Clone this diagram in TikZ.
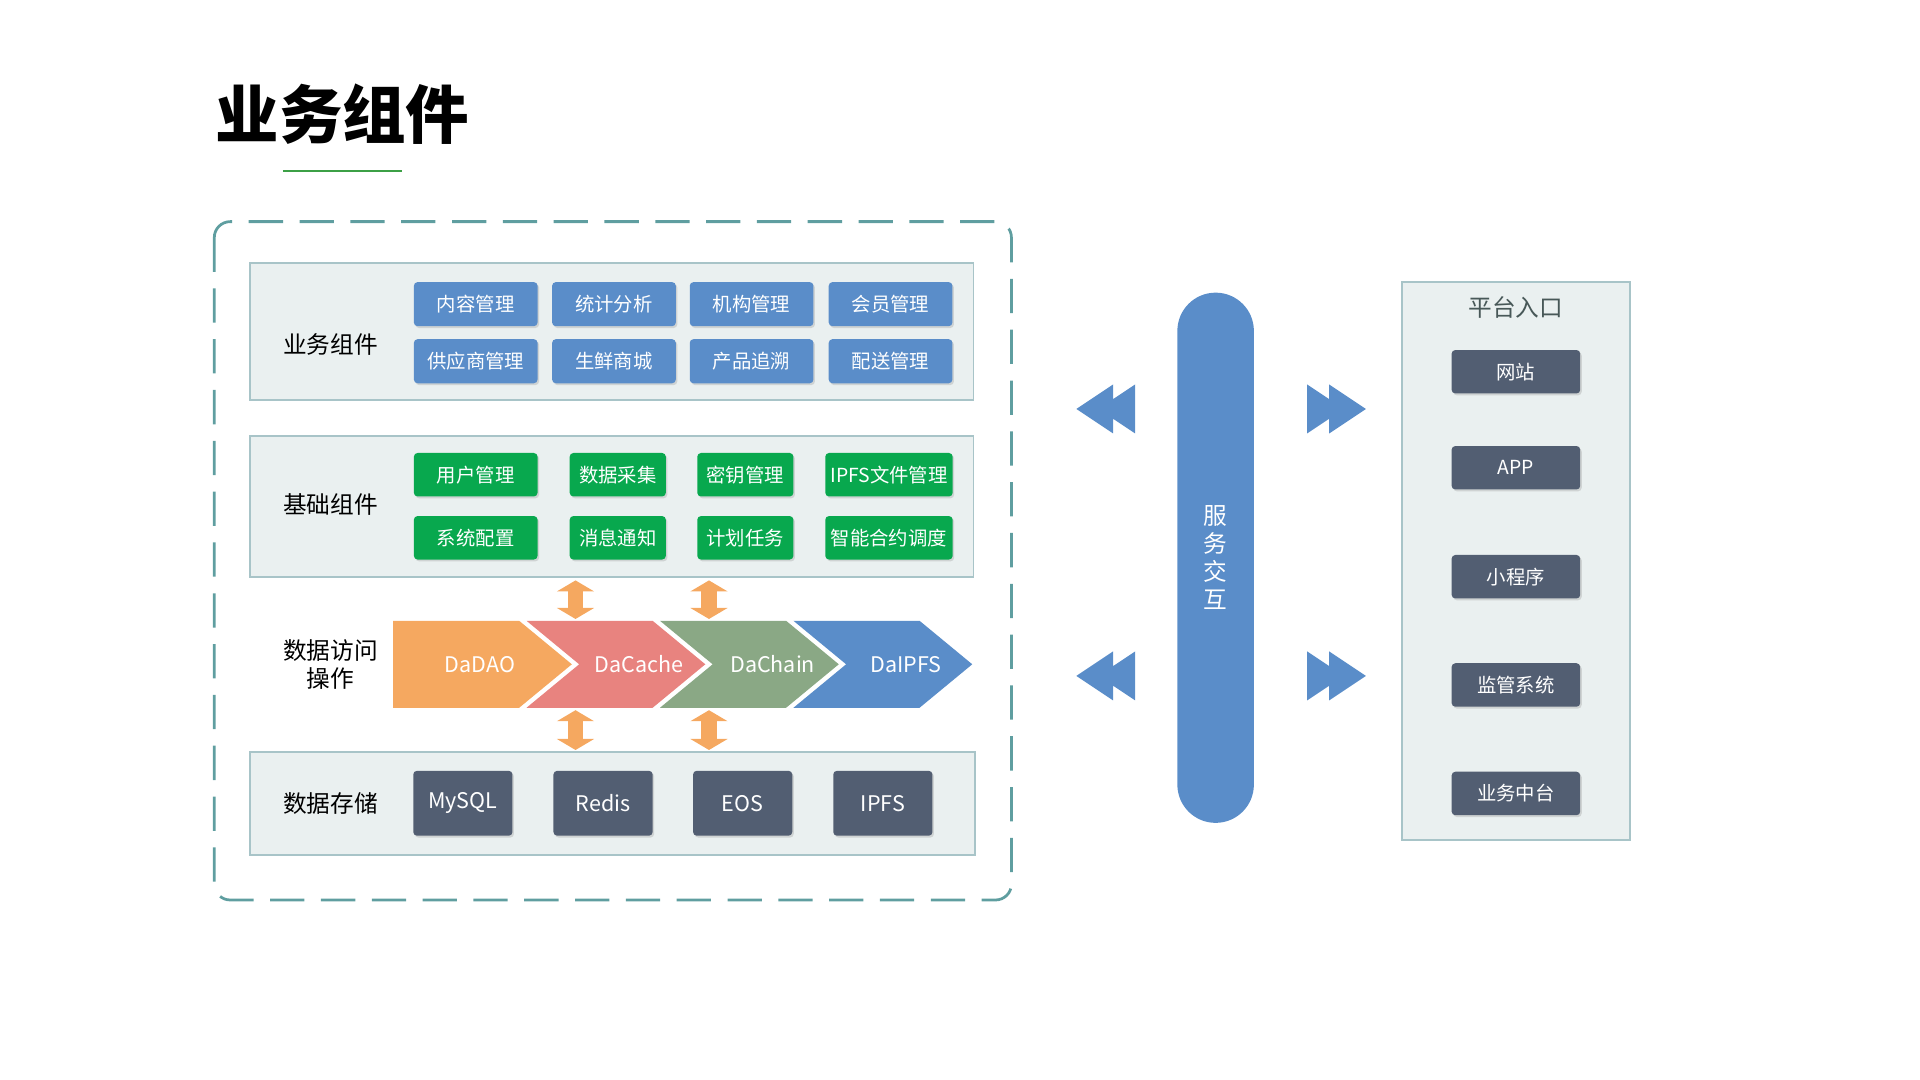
\documentclass[tikz,border=0pt]{standalone}
\usepackage{fontspec}
\setmainfont{Noto Sans CJK SC}
\usetikzlibrary{arrows.meta,shadows}
\definecolor{dashteal}{RGB}{95,158,160}
\definecolor{panelfill}{RGB}{234,240,240}
\definecolor{paneledge}{RGB}{168,196,200}
\definecolor{bizblue}{RGB}{90,141,201}
\definecolor{basegreen}{RGB}{8,168,78}
\definecolor{slate}{RGB}{82,94,114}
\definecolor{daorange}{RGB}{245,168,96}
\definecolor{dapink}{RGB}{232,131,127}
\definecolor{dasage}{RGB}{138,168,133}
\definecolor{linegreen}{RGB}{60,160,70}
\definecolor{portgray}{RGB}{72,88,88}

\begin{document}
\begin{tikzpicture}[x=0.2mm,y=-0.2mm]
\useasboundingbox (0,0) rectangle (1568,882);
\begin{scope}
\tikzstyle{every node}=[inner sep=0pt, font=\fontsize{9}{11}\selectfont];
\tikzstyle{panel}=[draw=paneledge, fill=panelfill, line width=0.3mm];
\tikzstyle{tile}=[rounded corners=0.6mm, text=white, drop shadow={shadow xshift=0.25mm, shadow yshift=-0.3mm, opacity=0.25}];
\tikzstyle{bizbox}=[tile, fill=bizblue, minimum width=20.2mm, minimum height=7.2mm];
\tikzstyle{basebox}=[tile, fill=basegreen, minimum height=7.1mm];
\tikzstyle{storebox}=[tile, fill=slate, minimum width=16.2mm, minimum height=10.6mm, font=\fontsize{10}{12}\selectfont];
\tikzstyle{portbox}=[tile, fill=slate, minimum width=21mm, minimum height=7.1mm];
\tikzstyle{sidelabel}=[font=\fontsize{11}{13}\selectfont, align=center];
\tikzstyle{dalabel}=[text=white, font=\fontsize{10}{12}\selectfont];
\tikzstyle{orangearr}=[draw=daorange, line width=2.6mm, {Triangle[width=6mm,length=1.8mm]}-{Triangle[width=6mm,length=1.8mm]}];
\tikzstyle{rewind}=[fill=bizblue];

\draw (279.7,93) node[font=\fontsize{29.5}{32}\selectfont\bfseries] (title) {业务组件};
\draw[linegreen, line width=0.35mm] (231,139.6) -- (328,139.6);

\draw[dashteal, line width=0.45mm, dash pattern=on 5.6mm off 2.7mm, rounded corners=2.6mm] (175,181) rectangle (826,735);

\draw (499.5,270.75) node[panel, minimum width=118.2mm, minimum height=22.3mm] (pbiz) {};
\draw (270,281) node[sidelabel] (lbiz) {业务组件};
\draw (388.5,248.4) node[bizbox] (b1) {内容管理};
\draw (501.4,248.4) node[bizbox] (b2) {统计分析};
\draw (613.8,248.4) node[bizbox] (b3) {机构管理};
\draw (727.3,248.4) node[bizbox] (b4) {会员管理};
\draw (388.5,295) node[bizbox] (b5) {供应商管理};
\draw (501.4,295) node[bizbox] (b6) {生鲜商城};
\draw (613.8,295) node[bizbox] (b7) {产品追溯};
\draw (727.3,295) node[bizbox] (b8) {配送管理};

\draw (499.5,413.5) node[panel, minimum width=118.2mm, minimum height=23mm] (pbase) {};
\draw (270,412.4) node[sidelabel] (lbase) {基础组件};
\draw (388.5,387.7) node[basebox, minimum width=20.2mm] (g1) {用户管理};
\draw (504.5,387.7) node[basebox, minimum width=15.7mm] (g2) {数据采集};
\draw (608.7,387.7) node[basebox, minimum width=15.7mm] (g3) {密钥管理};
\draw (726,387.7) node[basebox, minimum width=20.8mm] (g4) {IPFS文件管理};
\draw (388.5,439.2) node[basebox, minimum width=20.2mm] (g5) {系统配置};
\draw (504.5,439.2) node[basebox, minimum width=15.7mm] (g6) {消息通知};
\draw (608.7,439.2) node[basebox, minimum width=15.7mm] (g7) {计划任务};
\draw (726,439.2) node[basebox, minimum width=20.8mm] (g8) {智能合约调度};

\draw (270,543) node[sidelabel] (lda) {数据访问\\操作};
\fill[daorange] (321,507) -- (424,507) -- (467,542.5) -- (424,578) -- (321,578) -- cycle;
\fill[dapink] (430,507) -- (533,507) -- (576,542.5) -- (533,578) -- (430,578) -- (473,542.5) -- cycle;
\fill[dasage] (539,507) -- (642,507) -- (685,542.5) -- (642,578) -- (539,578) -- (582,542.5) -- cycle;
\fill[bizblue] (648,507) -- (751,507) -- (794,542.5) -- (751,578) -- (648,578) -- (691,542.5) -- cycle;
\draw (392,542.5) node[dalabel] (dao) {DaDAO};
\draw (522,542.5) node[dalabel] (cache) {DaCache};
\draw (631,542.5) node[dalabel] (chain) {DaChain};
\draw (740,542.5) node[dalabel] (ipfs) {DaIPFS};

\coordinate (u1t) at (470,474);
\coordinate (u1b) at (470,505.5);
\coordinate (u2t) at (579,474);
\coordinate (u2b) at (579,505.5);
\coordinate (d1t) at (470,580);
\coordinate (d1b) at (470,612.5);
\coordinate (d2t) at (579,580);
\coordinate (d2b) at (579,612.5);
\draw[orangearr] (u1t) -- (u1b);
\draw[orangearr] (u2t) -- (u2b);
\draw[orangearr] (d1t) -- (d1b);
\draw[orangearr] (d2t) -- (d2b);

\draw (500,656) node[panel, minimum width=118.4mm, minimum height=16.8mm] (pstore) {};
\draw (270,656) node[sidelabel] (lstore) {数据存储};
\draw (378,656) node[storebox] (s1) {MySQL};
\draw (492.5,656) node[storebox] (s2) {Redis};
\draw (606.5,656) node[storebox] (s3) {EOS};
\draw (721,656) node[storebox] (s4) {IPFS};

\fill[rewind] (879,334) -- (909,314) -- (909,354) -- cycle (897,334) -- (927,314) -- (927,354) -- cycle;
\fill[rewind] (879,552) -- (909,532) -- (909,572) -- cycle (897,552) -- (927,532) -- (927,572) -- cycle;
\fill[rewind] (1115.5,334) -- (1085.5,314) -- (1085.5,354) -- cycle (1097.5,334) -- (1067.5,314) -- (1067.5,354) -- cycle;
\fill[rewind] (1115.5,552) -- (1085.5,532) -- (1085.5,572) -- cycle (1097.5,552) -- (1067.5,532) -- (1067.5,572) -- cycle;

\draw (992.75,455.5) node[fill=bizblue, rounded corners=6.25mm, minimum width=12.5mm, minimum height=86.6mm, text=white, align=center, font=\fontsize{11}{13}\selectfont] (bus) {服\\务\\交\\互};

\draw (1238,458) node[panel, minimum width=37.2mm, minimum height=91.2mm] (portal) {};
\draw (1238,251) node[text=portgray, font=\fontsize{11}{13}\selectfont] (ptitle) {平台入口};
\draw (1238,303.6) node[portbox] (p1) {网站};
\draw (1238,382) node[portbox] (p2) {APP};
\draw (1238,471) node[portbox] (p3) {小程序};
\draw (1238,559.4) node[portbox] (p4) {监管系统};
\draw (1238,648) node[portbox] (p5) {业务中台};
\end{scope}
\end{tikzpicture}
\end{document}
